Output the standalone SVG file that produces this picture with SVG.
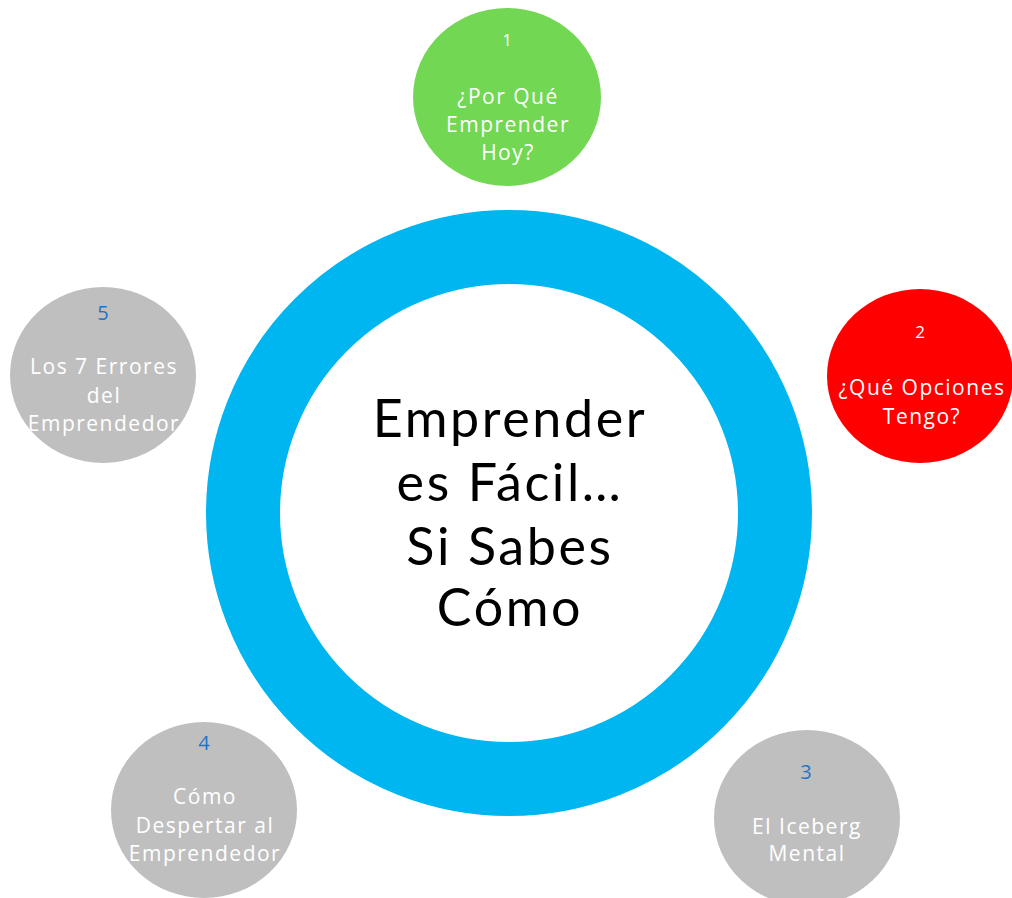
<svg xmlns="http://www.w3.org/2000/svg" width="1012" height="898" viewBox="0 0 1012 898">
<style>
.lbl{font-family:"Open Sans",Lato,"Liberation Sans",sans-serif;font-size:21px;letter-spacing:1.5px;fill:#ffffff;text-anchor:middle}
.num{font-family:"Open Sans",Lato,"Liberation Sans",sans-serif;font-size:17px;text-anchor:middle}
.w{fill:#ffffff}
.b{fill:#1f74c6}
.gray{fill:#bfbfbf}
.main{font-family:Lato,"Open Sans","Liberation Sans",sans-serif;font-size:52px;letter-spacing:2.6px;fill:#000000;text-anchor:middle}
</style>
<defs>
<clipPath id="c5"><ellipse cx="103" cy="375" rx="93" ry="88"/></clipPath>
<clipPath id="c4"><ellipse cx="204" cy="810" rx="93" ry="88"/></clipPath>
</defs>
<rect width="1012" height="898" fill="#ffffff"/>
<g id="connectors"></g>
<g id="center">
<circle cx="509" cy="513" r="266" fill="#ffffff" stroke="#00b6f1" stroke-width="74"/>
<text class="main" x="510" y="437">Emprender</text>
<text class="main" x="510" y="501">es Fácil…</text>
<text class="main" x="510" y="565">Si Sabes</text>
<text class="main" x="510" y="626">Cómo</text>
</g>
<g id="node1">
<ellipse cx="507" cy="97" rx="94" ry="89" fill="#72d753"/>
<text class="num w" x="507" y="46">1</text>
<text class="lbl" x="508" y="104">¿Por Qué</text>
<text class="lbl" x="508" y="132">Emprender</text>
<text class="lbl" x="508" y="160">Hoy?</text>
</g>
<g id="node2">
<ellipse cx="920" cy="376" rx="93" ry="87" fill="#ff0000"/>
<text class="num w" x="920" y="338">2</text>
<text class="lbl" x="922" y="395">¿Qué Opciones</text>
<text class="lbl" x="922" y="424">Tengo?</text>
</g>
<g id="node3">
<ellipse cx="807" cy="818" rx="93" ry="88" class="gray"/>
<text class="num b" x="806" y="779" style="font-size:20px">3</text>
<text class="lbl" x="807" y="834">El Iceberg</text>
<text class="lbl" x="807" y="861">Mental</text>
</g>
<g id="node4">
<ellipse cx="204" cy="810" rx="93" ry="88" class="gray"/>
<g clip-path="url(#c4)">
<text class="num b" x="204" y="750" style="font-size:20px">4</text>
<text class="lbl" x="205" y="804">Cómo</text>
<text class="lbl" x="205" y="833">Despertar al</text>
<text class="lbl" x="205" y="861">Emprendedor</text>
</g>
</g>
<g id="node5">
<ellipse cx="103" cy="375" rx="93" ry="88" class="gray"/>
<g clip-path="url(#c5)">
<text class="num b" x="103" y="320" style="font-size:20px">5</text>
<text class="lbl" x="104" y="374">Los 7 Errores</text>
<text class="lbl" x="104" y="403">del</text>
<text class="lbl" x="104" y="431">Emprendedor</text>
</g>
</g>
</svg>
